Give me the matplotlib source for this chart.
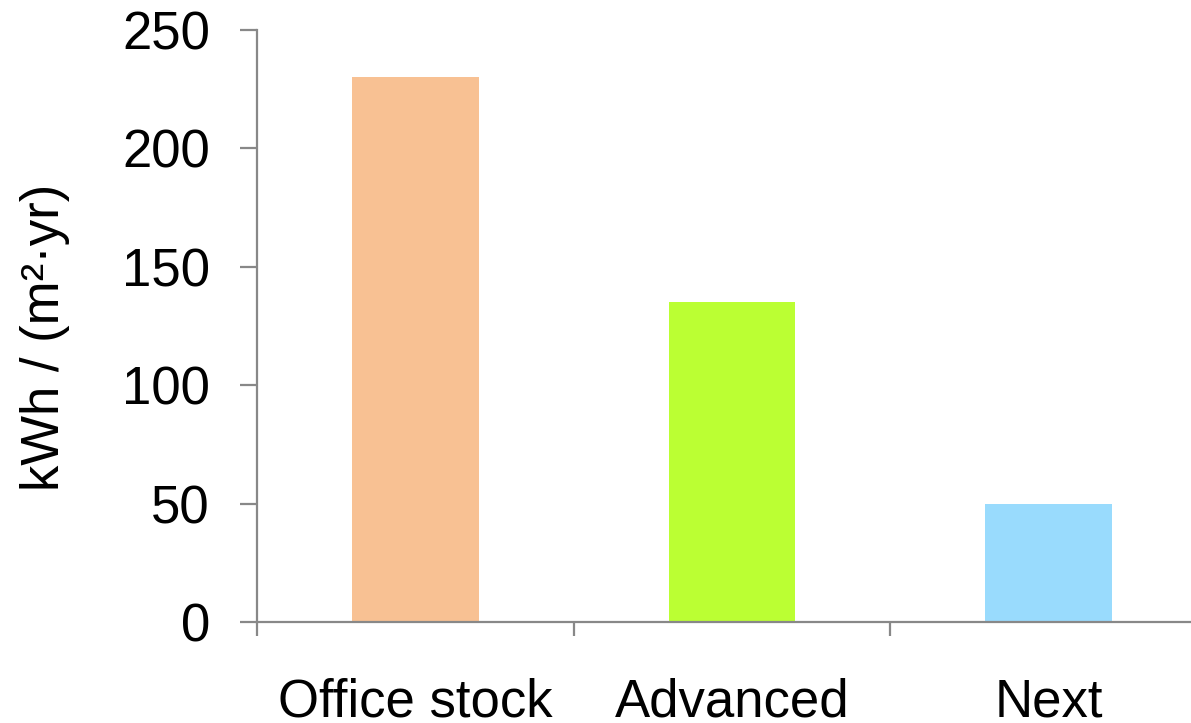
import numpy as np
import matplotlib.pyplot as plt

plt.rcParams['font.family'] = ['Liberation Sans', 'DejaVu Sans']

# data
categories = ["Office stock", "Advanced", "Next"]
values = [230, 135, 50]
colors = ["#F8C193", "#BBFF33", "#99DBFD"]
yticks = [0, 50, 100, 150, 200, 250]

fig = plt.figure(figsize=(11.91, 7.23), dpi=100)
ax = fig.add_axes([257 / 1191, 1 - 622 / 723, 950 / 1191, 592 / 723])

x = np.arange(len(categories))
ax.bar(x, values, width=0.4, color=colors)

ax.set_xlim(-0.5, len(categories) - 0.5)
ax.set_ylim(0, 250)

axis_gray = "#888888"
for side in ["top", "right"]:
    ax.spines[side].set_visible(False)
for side in ["left", "bottom"]:
    ax.spines[side].set_color(axis_gray)
    ax.spines[side].set_linewidth(1.6)

# y axis
ax.set_yticks(yticks)
ax.tick_params(axis="y", direction="out", length=12, width=1.6, color=axis_gray,
               labelsize=38, pad=22)

# x axis: ticks at category boundaries, labels at centres
ax.set_xticks(np.arange(len(categories)) - 0.5)
ax.set_xticklabels([])
ax.tick_params(axis="x", which="major", direction="out", length=10, width=1.6,
               color=axis_gray)
ax.set_xticks(x, minor=True)
ax.set_xticklabels(categories, minor=True)
ax.tick_params(axis="x", which="minor", length=0, labelsize=38, pad=40)

ax.set_ylabel("kWh / (m²·yr)", fontsize=38)
ax.yaxis.set_label_coords(-0.197, 0.481)

fig.savefig("out.png", dpi=100)
